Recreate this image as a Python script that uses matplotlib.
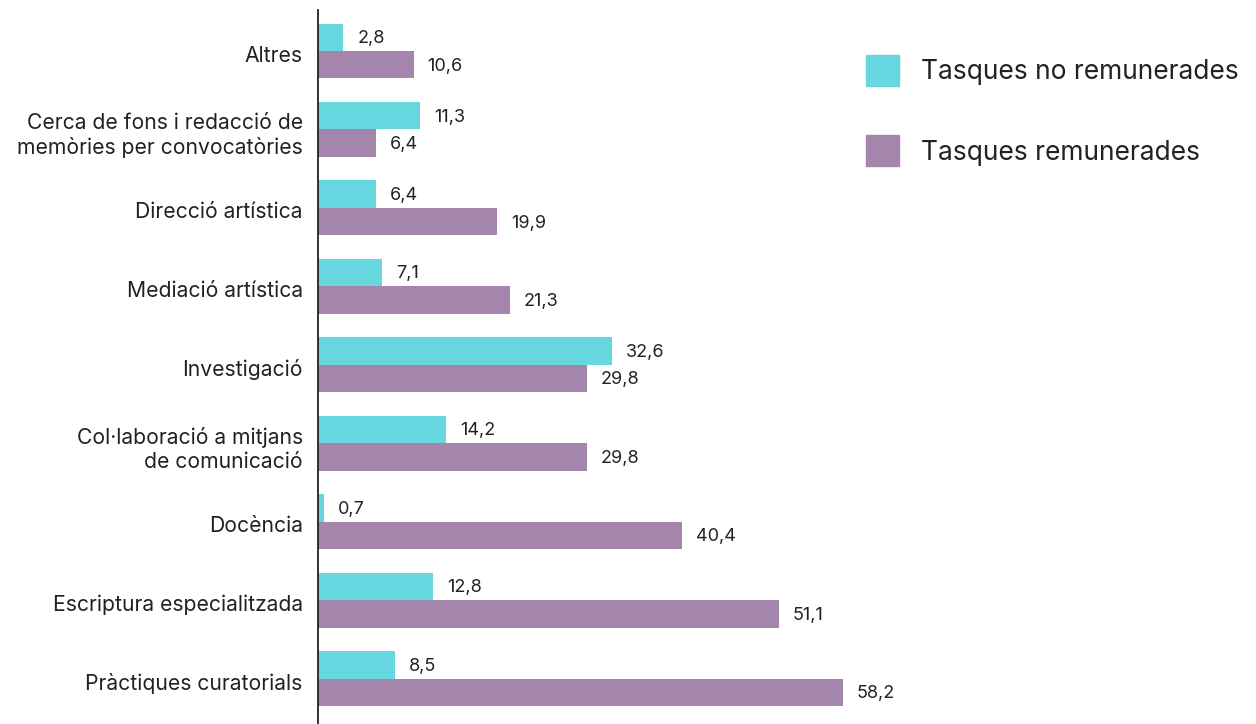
import matplotlib.pyplot as plt
from matplotlib.patches import Patch
from matplotlib.transforms import ScaledTranslation

plt.rcParams["font.family"] = ["Inter", "DejaVu Sans"]

categories = [
    "Altres",
    "Cerca de fons i redacció de\nmemòries per convocatòries",
    "Direcció artística",
    "Mediació artística",
    "Investigació",
    "Col·laboració a mitjans\nde comunicació",
    "Docència",
    "Escriptura especialitzada",
    "Pràctiques curatorials",
]
no_remunerades = [2.8, 11.3, 6.4, 7.1, 32.6, 14.2, 0.7, 12.8, 8.5]
remunerades = [10.6, 6.4, 19.9, 21.3, 29.8, 29.8, 40.4, 51.1, 58.2]
series_labels = ["Tasques no remunerades", "Tasques remunerades"]

CYAN = "#66d6df"
PURPLE = "#a486ac"
TEXT = "#222222"

W, H = 1256, 724
fig = plt.figure(figsize=(W / 100, H / 100), dpi=100)
ax = fig.add_axes([318 / W, 0, 1 - 318 / W, 1 - 10 / H])

bar_h = 0.35
ys = list(range(len(categories)))
for y, a, b in zip(ys, no_remunerades, remunerades):
    ax.barh(y - bar_h / 2, a, height=bar_h, color=CYAN)
    ax.barh(y + bar_h / 2, b, height=bar_h, color=PURPLE)
    for val, yy in ((a, y - bar_h / 2), (b, y + bar_h / 2)):
        ax.annotate(f"{val:.1f}".replace(".", ","), (val, yy),
                    xytext=(10, -1), textcoords="offset points",
                    ha="left", va="center", fontsize=13, color=TEXT)

ax.set_xlim(0, (W - 318) / 9.02)
ax.set_ylim(8.58, -0.523)
ax.set_yticks(ys)
ax.set_yticklabels(categories, fontsize=15.2, color=TEXT, linespacing=1.22)
ax.tick_params(axis="y", length=0, pad=11)
# labels sit a few pixels below the bar-pair centre in the original
shift = ScaledTranslation(0, -2.5 / 100, fig.dpi_scale_trans)
for lbl in ax.get_yticklabels():
    lbl.set_transform(lbl.get_transform() + shift)
ax.set_xticks([])
for side in ("top", "right", "bottom"):
    ax.spines[side].set_visible(False)
ax.spines["left"].set_color("#222222")
ax.spines["left"].set_linewidth(1.3)

handles = [Patch(color=CYAN), Patch(color=PURPLE)]
fig.legend(handles, series_labels, loc="upper left",
           bbox_to_anchor=(866 / W, 1 - 55 / H), frameon=False,
           borderpad=0, borderaxespad=0,
           fontsize=19, handlelength=1.25, handleheight=1.45,
           handletextpad=0.85, labelspacing=1.85, labelcolor=TEXT)

fig.savefig("out.png", dpi=100)
